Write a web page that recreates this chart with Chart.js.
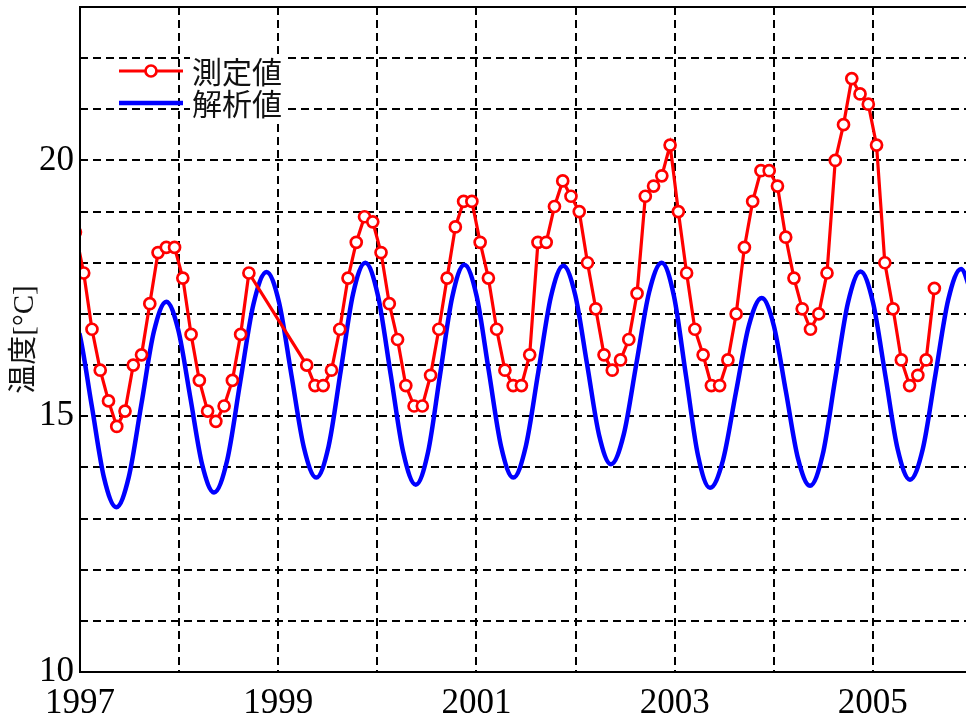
<!DOCTYPE html>
<html><head><meta charset="utf-8">
<script src="https://cdn.jsdelivr.net/npm/chart.js@4.4.1/dist/chart.umd.min.js"></script>
<style>html,body{margin:0;padding:0;background:#fff;overflow:hidden}canvas{display:block}</style>
</head><body>
<canvas id="c" width="966" height="720"></canvas>
<script>
// ---- data ----
const startYear = 1997;
const firstMeasuredMonth = -1; // Dec 1996 (index relative to Jan 1997)
const measuredValues = [
  18.6,
  17.8, 16.7, 15.9, 15.3, 14.8, 15.1, 16.0, 16.2, 17.2, 18.2, 18.3, 18.3,
  17.7, 16.6, 15.7, 15.1, 14.9, 15.2, 15.7, 16.6, 17.8, null, null, null,
  null, null, null, 16.0, 15.6, 15.6, 15.9, 16.7, 17.7, 18.4, 18.9, 18.8,
  18.2, 17.2, 16.5, 15.6, 15.2, 15.2, 15.8, 16.7, 17.7, 18.7, 19.2, 19.2,
  18.4, 17.7, 16.7, 15.9, 15.6, 15.6, 16.2, 18.4, 18.4, 19.1, 19.6, 19.3,
  19.0, 18.0, 17.1, 16.2, 15.9, 16.1, 16.5, 17.4, 19.3, 19.5, 19.7, 20.3,
  19.0, 17.8, 16.7, 16.2, 15.6, 15.6, 16.1, 17.0, 18.3, 19.2, 19.8, 19.8,
  19.5, 18.5, 17.7, 17.1, 16.7, 17.0, 17.8, 20.0, 20.7, 21.6, 21.3, 21.1,
  20.3, 18.0, 17.1, 16.1, 15.6, 15.8, 16.1, 17.5
];
const modelYears = [
  1996.870, 1996.994, 1997.118, 1997.242, 1997.366, 1997.492, 1997.619, 1997.745,
  1997.871, 1997.991, 1998.112, 1998.232, 1998.352, 1998.485, 1998.617, 1998.750,
  1998.882, 1999.008, 1999.133, 1999.259, 1999.384, 1999.508, 1999.632, 1999.755,
  1999.879, 2000.006, 2000.134, 2000.261, 2000.388, 2000.511, 2000.633, 2000.756,
  2000.878, 2001.002, 2001.125, 2001.249, 2001.372, 2001.498, 2001.625, 2001.751,
  2001.877, 2001.997, 2002.118, 2002.238, 2002.358, 2002.486, 2002.614, 2002.742,
  2002.870, 2002.992, 2003.114, 2003.235, 2003.357, 2003.488, 2003.618, 2003.749,
  2003.879, 2004.001, 2004.123, 2004.244, 2004.366, 2004.494, 2004.621, 2004.749,
  2004.876, 2005.001, 2005.126, 2005.250, 2005.375, 2005.504, 2005.632, 2005.761,
  2005.890, 2006.013
];
const modelValues = [
  17.20, 16.62, 15.21, 13.80, 13.22, 13.81, 15.23, 16.65,
  17.24, 16.69, 15.38, 14.06, 13.51, 14.14, 15.67, 17.19,
  17.82, 17.23, 15.81, 14.39, 13.80, 14.41, 15.90, 17.39,
  18.00, 17.36, 15.83, 14.30, 13.66, 14.29, 15.81, 17.33,
  17.96, 17.35, 15.88, 14.41, 13.80, 14.41, 15.87, 17.33,
  17.94, 17.37, 16.00, 14.63, 14.06, 14.64, 16.03, 17.42,
  18.00, 17.36, 15.80, 14.24, 13.60, 14.14, 15.46, 16.77,
  17.31, 16.77, 15.48, 14.18, 13.64, 14.25, 15.74, 17.22,
  17.83, 17.23, 15.80, 14.36, 13.76, 14.36, 15.82, 17.28,
  17.88, 17.27
];
const xTickLabels = [1997, 1999, 2001, 2003, 2005];
const yTickLabels = [10, 15, 20];
const seriesNames = ['測定値', '解析値'];
const yTitle = '温度[°C]';
const xRange = [1997, 2005.94];
const yRange = [10, 23];

// ---- build ----
const measuredPoints = measuredValues.map((v, i) => ({
  x: startYear + (firstMeasuredMonth + i + 0.45) / 12, y: v
}));
const modelPoints = modelYears.map((x, i) => ({ x: x, y: modelValues[i] }));

const serif = "'Liberation Serif','Times New Roman',serif";
const cjk = "'Liberation Serif','Noto Sans CJK JP',sans-serif";

const framePlugin = {
  id: 'frameLegend',
  afterDatasetsDraw(chart) {
    const { ctx, chartArea: a } = chart;
    const ds = chart.data.datasets;
    ctx.save();
    // frame
    ctx.strokeStyle = '#000';
    ctx.lineWidth = 2;
    ctx.setLineDash([]);
    ctx.beginPath();
    ctx.moveTo(a.right + 5, a.top);
    ctx.lineTo(a.left, a.top);
    ctx.lineTo(a.left, a.bottom);
    ctx.lineTo(a.right + 5, a.bottom);
    ctx.stroke();
    // legend
    const x0 = a.left + 39, x1 = a.left + 103, tx = a.left + 112;
    const rows = [a.top + 64, a.top + 96];
    ctx.fillStyle = '#fff';
    ctx.fillRect(tx - 2, rows[0] - 17, 98, rows[1] - rows[0] + 34);
    rows.forEach((y, i) => {
      const d = ds[i];
      ctx.strokeStyle = d.borderColor;
      ctx.lineWidth = d.borderWidth;
      ctx.beginPath(); ctx.moveTo(x0, y); ctx.lineTo(x1, y); ctx.stroke();
      if (d.pointRadius > 0) {
        ctx.beginPath();
        ctx.arc((x0 + x1) / 2, y, d.pointRadius, 0, Math.PI * 2);
        ctx.fillStyle = d.pointBackgroundColor; ctx.fill();
        ctx.lineWidth = d.pointBorderWidth; ctx.stroke();
      }
      ctx.fillStyle = '#111';
      ctx.font = "30px 'Noto Sans CJK JP', sans-serif";
      ctx.textBaseline = 'middle';
      ctx.textAlign = 'left';
      ctx.fillText(d.label, tx, y + 1);
    });
    ctx.restore();
  }
};

const gridStyle = { color: '#000', lineWidth: 2, drawTicks: false };
const gridBorder = { display: false, dash: [8, 5] };

new Chart(document.getElementById('c'), {
  type: 'line',
  data: {
    datasets: [
      {
        label: seriesNames[0], data: measuredPoints,
        borderColor: '#ff0000', borderWidth: 3.2, tension: 0, spanGaps: true,
        pointRadius: 5.5, pointBorderWidth: 2.7, pointBackgroundColor: '#ffffff',
        pointBorderColor: '#ff0000', pointHoverRadius: 5.5
      },
      {
        label: seriesNames[1], data: modelPoints,
        borderColor: '#0000ff', borderWidth: 4.5, pointRadius: 0,
        cubicInterpolationMode: 'monotone'
      }
    ]
  },
  options: {
    responsive: false, animation: false, devicePixelRatio: 1,
    layout: { autoPadding: false, padding: { top: 7, left: 0, right: 0, bottom: 0 } },
    plugins: { legend: { display: false }, tooltip: { enabled: false } },
    scales: {
      x: {
        type: 'linear', min: xRange[0], max: xRange[1],
        grid: gridStyle,
        border: gridBorder,
        ticks: {
          stepSize: 1, autoSkip: false, includeBounds: false, maxRotation: 0,
          padding: 11, color: '#000',
          font: { family: serif, size: 35, lineHeight: 1.2 },
          callback: v => xTickLabels.includes(v) ? String(v) : ''
        },
        afterFit: s => { s.height = 48; s.paddingLeft = 0; s.paddingRight = 0; }
      },
      y: {
        min: yRange[0], max: yRange[1],
        grid: gridStyle,
        border: gridBorder,
        ticks: {
          stepSize: 1, autoSkip: false, includeBounds: false, padding: 6, color: '#000',
          font: { family: serif, size: 35, lineHeight: 1.2 },
          callback: v => yTickLabels.includes(v) ? String(v) : ''
        },
        title: {
          display: true, text: yTitle, color: '#111',
          font: { family: cjk, size: 29, lineHeight: 1.2 },
          padding: { top: 8, bottom: 0 }
        },
        afterFit: s => { s.width = 80; s.paddingTop = 0; s.paddingBottom = 0; }
      }
    }
  },
  plugins: [framePlugin]
});
</script>
</body></html>
